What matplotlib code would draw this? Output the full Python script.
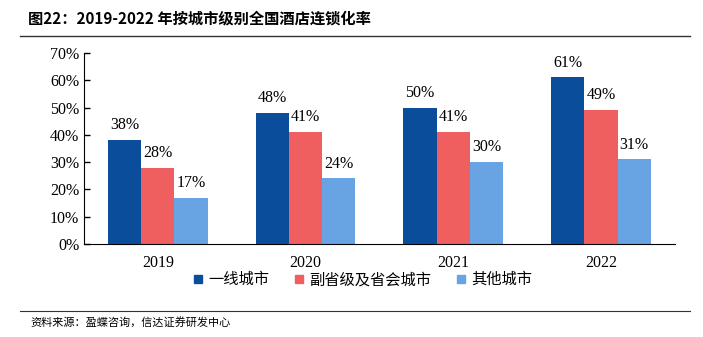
import numpy as np
import matplotlib.pyplot as plt
from matplotlib.lines import Line2D

years = ['2019', '2020', '2021', '2022']
series_names = ['一线城市', '副省级及省会城市', '其他城市']
tier1 = [38, 48, 50, 61]
provincial = [28, 41, 41, 49]
others = [17, 24, 30, 31]
colors = ['#0A4E9B', '#EF5F5F', '#68A4E4']

plt.rcParams['font.family'] = ['Liberation Serif', 'Noto Sans CJK SC']
cjk = ['Noto Sans CJK SC', 'DejaVu Sans']

fig = plt.figure(figsize=(7.03, 3.37), dpi=100)
ax = fig.add_axes([0.1195, 0.276, 0.8405, 0.567])

x = np.arange(len(years))
w = 0.225
for i, (vals, c) in enumerate(zip([tier1, provincial, others], colors)):
    pos = x + (i - 1) * w
    bars = ax.bar(pos, vals, width=w, color=c, label=series_names[i])
    for b, v in zip(bars, vals):
        ax.text(b.get_x() + b.get_width() / 2, v + 2.5, f'{v}%',
                ha='center', va='bottom', fontsize=11.5)

ax.set_xlim(-0.5, 3.5)
ax.set_ylim(0, 70)
ax.set_yticks(range(0, 71, 10))
ax.set_yticklabels([f'{t}%' for t in range(0, 71, 10)], fontsize=11.5)
ax.set_xticks(x)
ax.set_xticklabels(years, fontsize=11.5)
ax.tick_params(axis='y', direction='in', length=4, width=1)
ax.tick_params(axis='x', length=0, pad=8)
ax.spines['top'].set_visible(False)
ax.spines['right'].set_visible(False)

handles = [Line2D([], [], marker='s', linestyle='', color=c, markersize=6) for c in colors]
fig.legend(handles, series_names, loc='center', bbox_to_anchor=(0.513, 0.17),
           ncol=3, frameon=False, handletextpad=0.1, handlelength=1.2,
           columnspacing=1.3, prop={'family': cjk, 'size': 11})

fig.text(0.04, 0.945, '图22：2019-2022 年按城市级别全国酒店连锁化率',
         fontsize=11, fontweight='bold', family=cjk, va='center')
fig.add_artist(Line2D([0.028, 0.982], [0.893, 0.893], color='#333333', lw=1))
fig.add_artist(Line2D([0.028, 0.982], [0.078, 0.078], color='#333333', lw=0.8))
fig.text(0.043, 0.045, '资料来源：盈蝶咨询，信达证券研发中心', fontsize=8,
         family=cjk, va='center')

fig.savefig('out.png', dpi=100)
